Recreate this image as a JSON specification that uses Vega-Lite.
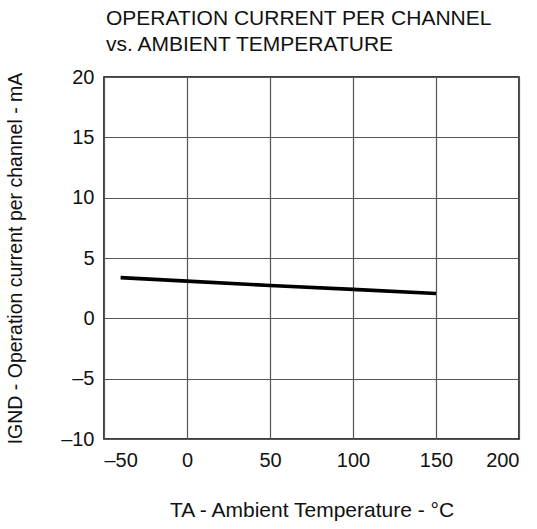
{
  "$schema": "https://vega.github.io/schema/vega-lite/v6.json",
  "autosize": "none",
  "width": 415,
  "height": 362,
  "padding": {"left": 104, "top": 77, "right": 18, "bottom": 90},
  "background": "white",
  "config": {
    "font": "Liberation Sans",
    "view": {"stroke": "black", "strokeWidth": 1.5}
  },
  "title": {
    "text": ["OPERATION CURRENT PER CHANNEL", "vs. AMBIENT TEMPERATURE"],
    "anchor": "start",
    "frame": "group",
    "dx": 2,
    "fontSize": 21,
    "fontWeight": "normal",
    "color": "#111",
    "lineHeight": 26,
    "offset": 12
  },
  "data": {
    "values": [
      {"t": -40, "i": 3.37},
      {"t": 0, "i": 3.08},
      {"t": 50, "i": 2.72},
      {"t": 100, "i": 2.4},
      {"t": 150, "i": 2.06}
    ]
  },
  "mark": {"type": "line", "color": "black", "strokeWidth": 3.6},
  "encoding": {
    "x": {
      "field": "t",
      "type": "quantitative",
      "scale": {"domain": [-50, 200], "nice": false, "zero": false},
      "axis": {
        "values": [-50, 0, 50, 100, 150, 200],
        "title": "TA - Ambient Temperature - °C",
        "titleFontSize": 21,
        "titleFontWeight": "normal",
        "titleColor": "#111",
        "titlePadding": 29,
        "labelFontSize": 20,
        "labelColor": "#111",
        "labelPadding": 11,
        "ticks": false,
        "domain": false,
        "grid": true,
        "gridColor": "#555",
        "gridWidth": 1.2,
        "gridOpacity": 1,
        "labelExpr": "replace(datum.label, '−', '–')"
      }
    },
    "y": {
      "field": "i",
      "type": "quantitative",
      "scale": {"domain": [-10, 20], "nice": false, "zero": false},
      "axis": {
        "values": [-10, -5, 0, 5, 10, 15, 20],
        "title": "IGND - Operation current per channel - mA",
        "titleFontSize": 19.5,
        "titleFontWeight": "normal",
        "titleColor": "#111",
        "titlePadding": 35,
        "labelFontSize": 20,
        "labelColor": "#111",
        "labelPadding": 10,
        "ticks": false,
        "domain": false,
        "grid": true,
        "gridColor": "#555",
        "gridWidth": 1.2,
        "gridOpacity": 1,
        "labelExpr": "replace(datum.label, '−', '–')"
      }
    }
  }
}
